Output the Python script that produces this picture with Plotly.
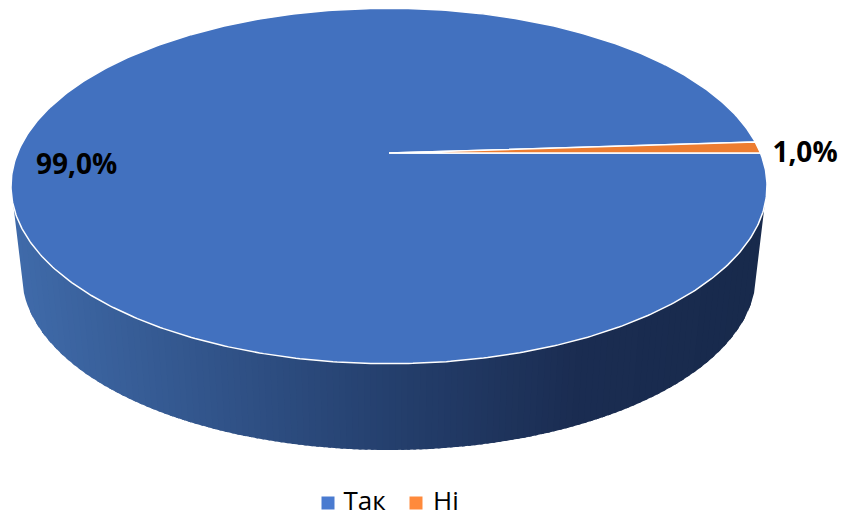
import numpy as np
import plotly.graph_objects as go

categories = ["Так", "Ні"]
values = [99.0, 1.0]
labels = ["99,0%", "1,0%"]
colors = ["#4271BF", "#ED7D31"]
legend_colors = ["#4A7BD0", "#FF8A3C"]

W, H = 844, 518
cx, cy, rx, ry = 389.0, 186.0, 378.0, 177.7
ax_, ay_ = 389.0, 153.0
bcx, bcy, brx, bry = 389.0, 275.0, 367.0, 175.0
start_deg = 14.3

fig = go.Figure()

# side wall: overlapping vertical strips with a light-to-dark gradient
stops = [(0.0, (64, 107, 170)), (0.5, (37, 64, 110)), (0.75, (27, 45, 82)), (1.0, (24, 42, 76))]
def wall_color(t):
    xs = [s[0] for s in stops]
    c = [np.interp(t, xs, [s[1][i] for s in stops]) for i in range(3)]
    return "rgb(%d,%d,%d)" % tuple(c)

xl = cx - rx + 2
xr = cx + rx - 2
edges = np.linspace(xl, xr, 121)
def top_y(x):
    u = np.clip((x - cx) / rx, -1, 1)
    return cy + ry * np.sqrt(1 - u ** 2)
def side_x(x):
    return bcx + (x - cx) * brx / rx
def bot_y(x):
    u = np.clip((x - cx) / rx, -1, 1)
    return bcy + bry * np.sqrt(1 - u ** 2)
for i in range(len(edges) - 1):
    a = edges[i]
    # every strip runs on under the next one, so no seams show
    b = min(edges[i + 1] + 3, xr)
    xs = np.linspace(a, b, 6)
    top = top_y(xs) - 2
    px = list(xs) + list(side_x(xs[::-1]))
    py = list(top) + list(bot_y(xs[::-1]))
    col = wall_color((i + 0.5) / (len(edges) - 1))
    fig.add_trace(go.Scatter(x=px, y=py, mode="lines", fill="toself", fillcolor=col,
                             line=dict(color=col, width=0), hoverinfo="skip", showlegend=False))

# top face: slices computed from the values
total = sum(values)
end = np.deg2rad(start_deg)
for name, v, col in zip(categories, values, colors):
    sw = v / total * 2 * np.pi
    th = np.linspace(end, end + sw, max(8, int(sw * 90)))
    px = [ax_] + list(cx + rx * np.cos(th)) + [ax_]
    py = [ay_] + list(cy - ry * np.sin(th)) + [ay_]
    fig.add_trace(go.Scatter(x=px, y=py, mode="lines", fill="toself", fillcolor=col,
                             line=dict(color="white", width=1.5), hoverinfo="skip", showlegend=False))
    end += sw

# data labels
fig.add_trace(go.Scatter(x=[76.5, 805], y=[167, 155], mode="text", text=labels,
                         textposition="middle center",
                         textfont=dict(family="Open Sans", size=28, color="black", weight="bold"),
                         hoverinfo="skip", showlegend=False))

# legend
fig.add_trace(go.Scatter(x=[328, 416], y=[503, 503], mode="markers",
                         marker=dict(symbol="square", size=13, color=legend_colors),
                         hoverinfo="skip", showlegend=False))
fig.add_trace(go.Scatter(x=[343.5, 433], y=[503.5, 503.5], mode="text", text=categories,
                         textposition="middle right",
                         textfont=dict(family="Open Sans", size=26, color="black"),
                         hoverinfo="skip", showlegend=False))

fig.update_layout(
    width=W, height=H, margin=dict(l=0, r=0, t=0, b=0),
    paper_bgcolor="white", plot_bgcolor="white",
    xaxis=dict(range=[0, W], visible=False, fixedrange=True),
    yaxis=dict(range=[H, 0], visible=False, fixedrange=True),
    showlegend=False,
)
fig.write_html("out.html", config={"displayModeBar": False},
               post_script="document.body.style.margin='0';document.body.style.overflow='hidden';")
